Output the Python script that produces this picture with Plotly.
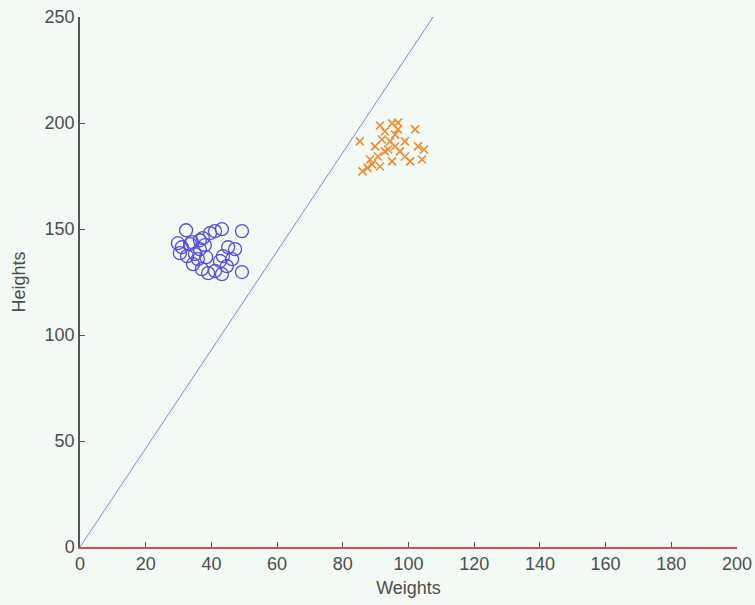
import plotly.graph_objects as go

# Blue cluster (circles): weights, heights
blue_w = [32.3, 43.2, 49.3, 41.1, 39.6, 29.8, 31.0, 34.1, 36.5, 38.0,
          30.4, 32.6, 35.0, 35.9, 34.4, 37.1, 39.0, 41.1, 43.2, 44.7,
          46.3, 47.2, 43.5, 49.3, 37.4, 36.5, 45.1, 33.5, 38.4, 42.6]
blue_h = [149.4, 149.9, 149.0, 149.0, 148.1, 143.3, 141.4, 143.8, 144.7, 142.4,
          138.6, 137.2, 138.2, 135.8, 133.4, 131.1, 129.2, 130.2, 128.7, 132.5,
          135.8, 140.5, 137.2, 129.7, 145.7, 140.5, 141.4, 142.9, 136.7, 134.9]

# Orange cluster (crosses): weights, heights
orange_w = [86.0, 85.2, 91.3, 95.0, 96.8, 92.8, 94.4, 95.9, 92.8, 90.7,
            88.9, 91.3, 95.0, 98.9, 102.0, 102.9, 104.7, 104.1, 98.9, 95.9,
            93.8, 97.4, 89.8, 88.3, 100.5, 91.9, 96.8, 87.5]
orange_h = [177.2, 191.3, 198.8, 199.8, 200.2, 196.0, 191.3, 188.9, 186.6, 184.2,
            180.5, 179.5, 181.9, 184.2, 197.0, 189.0, 187.5, 182.8, 191.3, 194.5,
            187.5, 186.6, 189.0, 182.8, 181.9, 192.2, 197.0, 178.8]

# Separating line
line_w = [0, 107.5]
line_h = [0, 250]

x_ticks = [0, 20, 40, 60, 80, 100, 120, 140, 160, 180, 200]
y_ticks = [0, 50, 100, 150, 200, 250]

fig = go.Figure()
fig.add_trace(go.Scatter(x=line_w, y=line_h, mode="lines",
                         line=dict(color="#7f86e6", width=1), showlegend=False))
fig.add_trace(go.Scatter(x=blue_w, y=blue_h, mode="markers",
                         marker=dict(symbol="circle-open", size=13, color="#5050e0",
                                     line=dict(width=1.3, color="#5050e0")),
                         showlegend=False))
fig.add_trace(go.Scatter(x=orange_w, y=orange_h, mode="markers",
                         marker=dict(symbol="x-thin-open", size=8, color="#f08a30",
                                     line=dict(width=1.6, color="#f08a30")),
                         showlegend=False))

axis_font = dict(family="Liberation Sans, Arial, sans-serif", size=18, color="#4e4e4e")
fig.update_layout(
    width=755, height=605,
    margin=dict(l=80, r=18, t=17, b=58, autoexpand=False),
    paper_bgcolor="#f3faf5", plot_bgcolor="#f3faf5",
    font=axis_font,
    xaxis=dict(range=[0, 200], tickvals=x_ticks, showgrid=False, zeroline=False,
               showline=True, linecolor="#d05050", linewidth=1.5,
               ticks="inside", ticklen=5, tickcolor="#555555",
               title=dict(text="Weights", font=axis_font, standoff=8),
               tickfont=axis_font, automargin=False),
    yaxis=dict(range=[0, 250], tickvals=y_ticks, showgrid=False, zeroline=False,
               showline=True, linecolor="#555555", linewidth=1.5,
               ticks="inside", ticklen=5, tickcolor="#555555",
               title=dict(text="Heights", font=axis_font, standoff=14),
               tickfont=axis_font, automargin=False),
)
fig.write_html("out.html")
